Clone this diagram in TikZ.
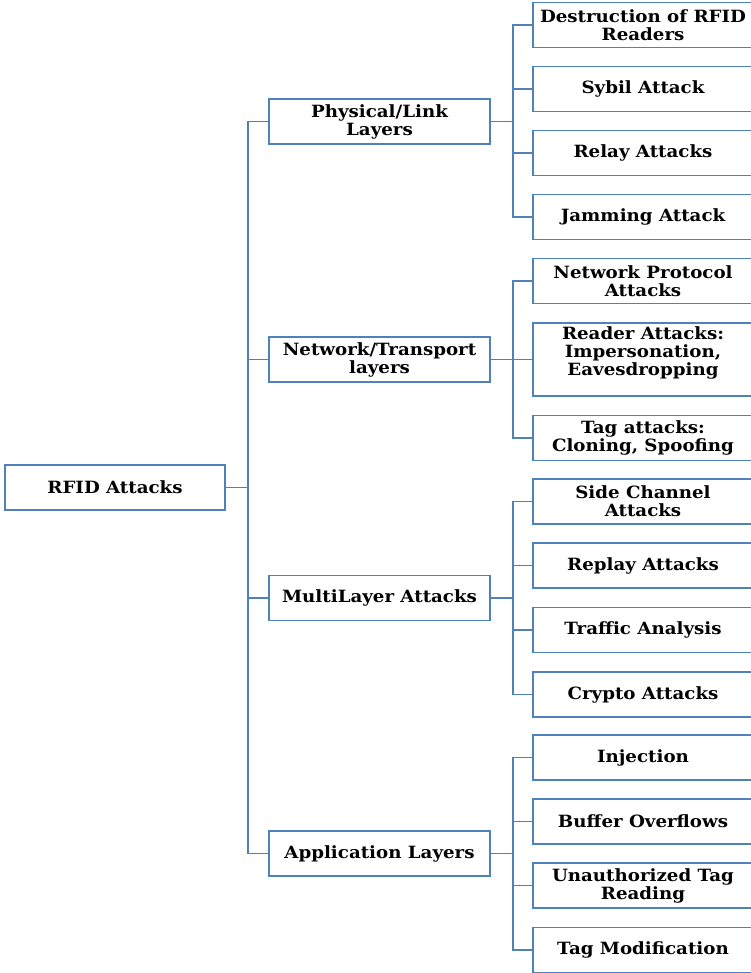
\documentclass[tikz,border=0pt]{standalone}
\usepackage{fontspec}
\setmainfont{DejaVu Serif}[FakeStretch=1.08]
\definecolor{linkblue}{RGB}{79,129,189}

\begin{document}
\begin{tikzpicture}[x=0.025cm, y=-0.025cm,
    box/.style={draw=linkblue, line width=1.4pt, fill=white, align=center,
      font=\bfseries\fontsize{12}{12.8}\selectfont, inner sep=1pt,
      minimum height=1.125cm},
    layer/.style={box, minimum width=5.525cm},
    leaf/.style={box, minimum width=5.5cm},
    link/.style={draw=linkblue, line width=1.4pt}]
  \useasboundingbox (0, 0) rectangle (750, 973);

  % Root
  \node[box, minimum width=5.5cm] (rfid) at (115, 487.5) {RFID Attacks};

  % Layers
  \node[layer] (phys) at (379.5, 121.5) {Physical/Link\\Layers};
  \node[layer] (net) at (379.5, 359.5) {Network/Transport\\layers};
  \node[layer] (multi) at (379.5, 598) {MultiLayer Attacks};
  \node[layer] (app) at (379.5, 853.5) {Application Layers};

  % Physical/Link leaves
  \node[leaf] (destr) at (643, 25) {Destruction of RFID\\Readers};
  \node[leaf] (sybil) at (643, 89) {Sybil Attack};
  \node[leaf] (relay) at (643, 153) {Relay Attacks};
  \node[leaf] (jam) at (643, 217) {Jamming Attack};

  % Network/Transport leaves
  \node[leaf] (proto) at (643, 281) {Network Protocol\\Attacks};
  \node[leaf, minimum height=1.825cm, text depth=12pt] (reader) at (643, 359.5)
    {Reader Attacks:\\Impersonation,\\Eavesdropping};
  \node[leaf] (tag) at (643, 438) {Tag attacks:\\Cloning, Spoofing};

  % MultiLayer leaves
  \node[leaf] (side) at (643, 501.5) {Side Channel\\Attacks};
  \node[leaf] (replay) at (643, 565.5) {Replay Attacks};
  \node[leaf] (traffic) at (643, 630) {Traffic Analysis};
  \node[leaf] (crypto) at (643, 694.5) {Crypto Attacks};

  % Application leaves
  \node[leaf] (inject) at (643, 757.5) {Injection};
  \node[leaf] (buffer) at (643, 821.5) {Buffer Overflows};
  \node[leaf] (unauth) at (643, 885.5) {Unauthorized Tag\\Reading};
  \node[leaf] (modif) at (643, 950) {Tag Modification};

  % Connectors
  \draw[link] (rfid.east) -- ++(22, 0) coordinate (trunk);
  \foreach \n in {phys, net, multi, app}
    \draw[link] (trunk) |- (\n.west);

  \draw[link] (phys.east) -- ++(22, 0) coordinate (physbus);
  \foreach \n in {destr, sybil, relay, jam}
    \draw[link] (physbus) |- (\n.west);

  \draw[link] (net.east) -- ++(22, 0) coordinate (netbus);
  \foreach \n in {proto, reader, tag}
    \draw[link] (netbus) |- (\n.west);

  \draw[link] (multi.east) -- ++(22, 0) coordinate (multibus);
  \foreach \n in {side, replay, traffic, crypto}
    \draw[link] (multibus) |- (\n.west);

  \draw[link] (app.east) -- ++(22, 0) coordinate (appbus);
  \foreach \n in {inject, buffer, unauth, modif}
    \draw[link] (appbus) |- (\n.west);
\end{tikzpicture}
\end{document}
